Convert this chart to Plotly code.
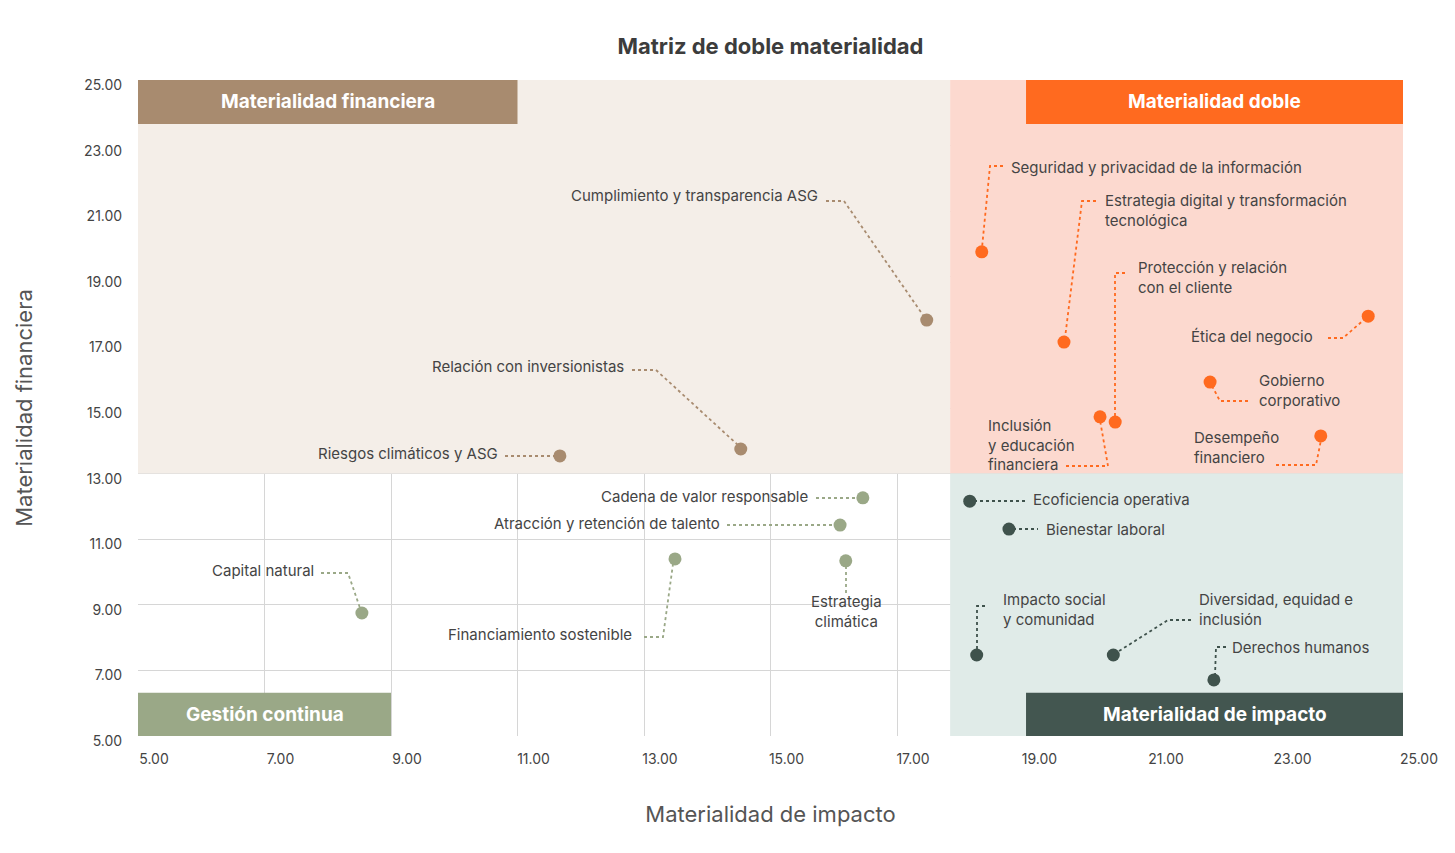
import plotly.graph_objects as go

# plot-area pixel mapping of reference (for label placement only)
X0, X1, Y0, Y1 = 130, 1395, 72, 728
def dx(px): return 5 + (px - X0) * 20 / (X1 - X0)
def dy(py): return 25 - (py - Y0) * 20 / (Y1 - Y0)

names = ["Cumplimiento y transparencia ASG", "Relación con inversionistas", "Riesgos climáticos y ASG",
         "Cadena de valor responsable", "Atracción y retención de talento", "Financiamiento sostenible",
         "Estrategia<br>climática", "Capital natural",
         "Seguridad y privacidad de la información", "Estrategia digital y transformación<br>tecnológica",
         "Ética del negocio", "Gobierno<br>corporativo", "Inclusión<br>y educación<br>financiera",
         "Protección y relación<br>con el cliente", "Desempeño<br>financiero",
         "Ecoficiencia operativa", "Bienestar laboral", "Impacto social<br>y comunidad",
         "Diversidad, equidad e<br>inclusión", "Derechos humanos"]
impacto = [17.47, 14.53, 11.67, 16.46, 16.10, 13.49, 16.19, 8.54,
           18.34, 19.64, 24.45, 21.95, 20.21, 20.45, 23.70,
           18.15, 18.77, 18.26, 20.42, 22.01]
financiera = [17.68, 13.75, 13.54, 12.26, 11.43, 10.40, 10.34, 8.75,
              19.76, 17.01, 17.80, 15.79, 14.73, 14.57, 14.15,
              12.16, 11.31, 7.47, 7.47, 6.71]
grupo = ["f"]*3 + ["g"]*5 + ["d"]*7 + ["i"]*5
colors = {"f": "#a88b6f", "g": "#9aa887", "d": "#ff6a1f", "i": "#3f524c"}

# label anchor (px), anchor side, leader path (px)
labels = [
    (812, 187, "right", [(818,193),(836,193),(917,310)]),
    (618, 358, "right", [(624,362),(648,362),(731,438)]),
    (492, 445, "right", [(497,448),(548,448)]),
    (802, 488, "right", [(808,490),(850,490)]),
    (714, 515, "right", [(719,517),(827,517)]),
    (626, 626, "right", [(636,629),(655,629),(665,556)]),
    (838, 603, "center", [(838,558),(838,585)]),
    (308, 562, "right", [(313,565),(340,565),(352,600)]),
    (1001, 159, "left", [(995,158),(982,158),(974,240)]),
    (1095, 202, "left", [(1088,193),(1074,193),(1057,330)]),
    (1307, 328, "right", [(1320,330),(1335,330),(1358,310)]),
    (1249, 382, "left", [(1240,393),(1212,393),(1204,378)]),
    (978, 437, "left", [(1058,458),(1100,458),(1092,412)]),
    (1128, 269, "left", [(1117,265),(1107,265),(1107,410)]),
    (1184, 439, "left", [(1268,457),(1308,457),(1313,432)]),
    (1023, 491, "left", [(966,493),(1017,493)]),
    (1036, 521, "left", [(1005,521),(1030,521)]),
    (993, 601, "left", [(977,598),(969,598),(969,643)]),
    (1189, 601, "left", [(1183,612),(1160,612),(1108,645)]),
    (1222, 639, "left", [(1218,639),(1208,639),(1207,668)]),
]

ticks = [5, 7, 9, 11, 13, 15, 17, 19, 21, 23, 25]
ticktext = [f"{t:.2f}" for t in ticks]

fig = go.Figure()
FONT = "Inter"
shapes = [
    dict(type="rect", x0=5, x1=17.84, y0=13, y1=25, fillcolor="#f4eee8", line_width=0, layer="between"),
    dict(type="rect", x0=17.84, x1=25, y0=13, y1=25, fillcolor="#fcd9cf", line_width=0, layer="between"),
    dict(type="rect", x0=17.84, x1=25, y0=5, y1=13, fillcolor="#e0ebe8", line_width=0, layer="between"),
]
boxes = [(5, 11, 23.66, 25, "#a88b6f", "Materialidad financiera"),
         (19.04, 25, 23.66, 25, "#ff6a1f", "Materialidad doble"),
         (5, 9, 5, 6.32, "#9aa887", "Gestión continua"),
         (19.04, 25, 5, 6.32, "#435650", "Materialidad de impacto")]
annotations = []
for x0, x1, y0, y1, c, t in boxes:
    shapes.append(dict(type="rect", x0=x0, x1=x1, y0=y0, y1=y1, fillcolor=c, line_width=0, layer="above"))
    annotations.append(dict(x=(x0+x1)/2, y=(y0+y1)/2, text=f"<b>{t}</b>", showarrow=False,
                            font=dict(family=FONT, size=19, color="white")))

for i, (lx, ly, side, path) in enumerate(labels):
    fig.add_trace(go.Scatter(x=[dx(p[0]) for p in path], y=[dy(p[1]) for p in path], mode="lines",
                             line=dict(color=colors[grupo[i]], width=1.8, dash="dot"),
                             hoverinfo="skip", showlegend=False))
for i, n in enumerate(names):
    lx, ly, side, _ = labels[i]
    annotations.append(dict(x=dx(lx), y=dy(ly), text=n, showarrow=False, xanchor=side, yanchor="middle",
                            align="center" if side == "center" else "left",
                            font=dict(family=FONT, size=15, color="#444")))

for g in colors:
    idx = [i for i in range(len(names)) if grupo[i] == g]
    fig.add_trace(go.Scatter(x=[impacto[i] for i in idx], y=[financiera[i] for i in idx], mode="markers",
                             marker=dict(size=13, color=colors[g]), showlegend=False,
                             text=[names[i] for i in idx], hoverinfo="text+x+y"))

fig.update_layout(
    width=1455, height=853, margin=dict(l=130, r=60, t=72, b=125, autoexpand=False),
    plot_bgcolor="white", paper_bgcolor="white",
    title=dict(text="<b>Matriz de doble materialidad</b>", x=762.5/1455, xanchor="center",
               y=1-38/853, yanchor="middle", font=dict(family=FONT, size=22, color="#3c3c3c")),
    shapes=shapes, annotations=annotations,
    font=dict(family=FONT, color="#444"),
)
fig.update_xaxes(range=[5, 25], tickvals=ticks, ticktext=ticktext, showgrid=True, gridcolor="#d6d6d6",
                 zeroline=False, automargin=False, ticklabelshift=16, ticks="outside", ticklen=10,
                 tickcolor="rgba(0,0,0,0)", tickfont=dict(size=14, color="#444"),
                 title=dict(text="Materialidad de impacto", font=dict(size=22, color="#555"), standoff=40))
fig.update_yaxes(range=[5, 25], tickvals=ticks, ticktext=ticktext, showgrid=True, gridcolor="#d6d6d6",
                 zeroline=False, automargin=False, ticklabelshift=5, ticks="outside", ticklen=12,
                 tickcolor="rgba(0,0,0,0)", tickfont=dict(size=14, color="#444"),
                 title=dict(text="Materialidad financiera", font=dict(size=22, color="#555"), standoff=45))
fig.write_html("out.html")
